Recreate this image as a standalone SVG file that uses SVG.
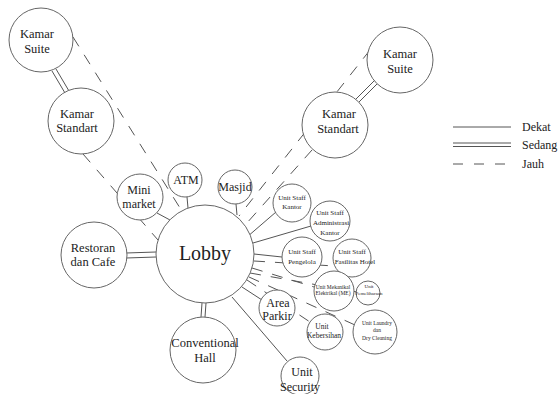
<svg xmlns="http://www.w3.org/2000/svg" width="559" height="394" viewBox="0 0 559 394">
<style>
.n{fill:#fff;stroke:#666;stroke-width:1}
.t{fill:#222;text-anchor:middle}
.s{stroke:#555;stroke-width:1;fill:none}
.d{stroke:#555;stroke-width:1;fill:none;stroke-dasharray:11 10}
.l{fill:#222;font-size:12px}
</style>
<rect width="559" height="394" fill="#fff"/>
<g id="connectors">
<line class="d" x1="73" y1="37" x2="180" y2="208"/>
<line class="d" x1="83" y1="154" x2="158" y2="240"/>
<line class="d" x1="370" y1="50" x2="239" y2="216"/>
<line class="d" x1="312" y1="150" x2="246" y2="224"/>
<line class="d" x1="254" y1="261" x2="334" y2="266"/>
<line class="d" x1="252" y1="268" x2="314" y2="287"/>
<line class="d" x1="250" y1="273" x2="357" y2="292"/>
<line class="d" x1="247" y1="280" x2="310" y2="322"/>
<line class="d" x1="249" y1="277" x2="355" y2="325"/>
<line class="s" x1="52" y1="71" x2="65" y2="93"/>
<line class="s" x1="56" y1="69" x2="69" y2="91"/>
<line class="s" x1="356" y1="99" x2="375" y2="80"/>
<line class="s" x1="359" y1="102" x2="378" y2="83"/>
<line class="s" x1="126" y1="253" x2="156" y2="252"/>
<line class="s" x1="126" y1="258" x2="156" y2="257"/>
<line class="s" x1="202" y1="303" x2="201" y2="317"/>
<line class="s" x1="206" y1="303" x2="205" y2="317"/>
<line class="s" x1="157" y1="213" x2="170" y2="220"/>
<line class="s" x1="187" y1="197" x2="188" y2="208"/>
<line class="s" x1="236" y1="204" x2="237" y2="215"/>
<line class="s" x1="247" y1="237" x2="276" y2="212"/>
<line class="s" x1="253" y1="243" x2="311" y2="226"/>
<line class="s" x1="254" y1="254" x2="282" y2="257"/>
<line class="s" x1="242" y1="287" x2="262" y2="300"/>
<line class="s" x1="232" y1="297" x2="287" y2="361"/>
</g>
<g font-family="'Liberation Serif', 'Times New Roman', 'DejaVu Serif', serif">
<g id="kamar-suite-l"><circle class="n" cx="41" cy="40" r="32"/><text class="t" font-size="12.5"><tspan x="37" y="38">Kamar</tspan><tspan x="37" y="53">Suite</tspan></text></g>
<g id="kamar-standart-l"><circle class="n" cx="81" cy="121" r="33"/><text class="t" font-size="12.5"><tspan x="77" y="118">Kamar</tspan><tspan x="77" y="132">Standart</tspan></text></g>
<g id="kamar-suite-r"><circle class="n" cx="400" cy="60" r="33"/><text class="t" font-size="12.5"><tspan x="400" y="58">Kamar</tspan><tspan x="400" y="73">Suite</tspan></text></g>
<g id="kamar-standart-r"><circle class="n" cx="335" cy="125" r="33"/><text class="t" font-size="12.5"><tspan x="339" y="118">Kamar</tspan><tspan x="338" y="133">Standart</tspan></text></g>
<g id="lobby"><circle class="n" cx="205" cy="254" r="49"/><text class="t" font-size="20" x="205" y="260">Lobby</text></g>
<g id="restoran"><circle class="n" cx="94" cy="255" r="33"/><text class="t" font-size="12.5"><tspan x="93" y="252">Restoran</tspan><tspan x="93" y="266">dan Cafe</tspan></text></g>
<g id="conventional"><circle class="n" cx="203" cy="350" r="33"/><text class="t" font-size="12.5"><tspan x="205" y="347">Conventional</tspan><tspan x="205" y="362">Hall</tspan></text></g>
<g id="minimarket"><circle class="n" cx="140" cy="197" r="23"/><text class="t" font-size="12"><tspan x="139" y="194">Mini</tspan><tspan x="139" y="208">market</tspan></text></g>
<g id="atm"><circle class="n" cx="185" cy="180" r="17"/><text class="t" font-size="12" x="186" y="184">ATM</text></g>
<g id="masjid"><circle class="n" cx="235" cy="187" r="17"/><text class="t" font-size="12" x="235" y="191">Masjid</text></g>
<g id="staff-kantor"><circle class="n" cx="292" cy="203" r="19"/><text class="t" font-size="7"><tspan x="292" y="200">Unit Staff</tspan><tspan x="292" y="209">Kantor</tspan></text></g>
<g id="staff-admin"><circle class="n" cx="330" cy="221" r="20"/><text class="t" font-size="7"><tspan x="330" y="215">Unit Staff</tspan><tspan x="331" y="225">Administrasi</tspan><tspan x="330" y="235">Kantor</tspan></text></g>
<g id="staff-pengelola"><circle class="n" cx="302" cy="257" r="20"/><text class="t" font-size="7"><tspan x="302" y="254">Unit Staff</tspan><tspan x="302" y="264">Pengelola</tspan></text></g>
<g id="staff-fasilitas"><circle class="n" cx="352" cy="258" r="19"/><text class="t" font-size="7"><tspan x="352" y="254">Unit Staff</tspan><tspan x="355" y="264">Fasilitas Hotel</tspan></text></g>
<g id="me"><circle class="n" cx="334" cy="291" r="20"/><text class="t" font-size="5.5"><tspan x="333" y="289">Unit Mekanikal</tspan><tspan x="333" y="295">Elektrikal (ME)</tspan></text></g>
<g id="pemeliharaan"><circle class="n" cx="368" cy="293" r="12"/><text class="t" font-size="5"><tspan x="369" y="288">Unit</tspan><tspan x="369" y="295">Pemeliharaan</tspan></text></g>
<g id="kebersihan"><circle class="n" cx="325" cy="332" r="18"/><text class="t" font-size="7.5"><tspan x="322" y="329">Unit</tspan><tspan x="324" y="338">Kebersihan</tspan></text></g>
<g id="laundry"><circle class="n" cx="375" cy="332" r="22"/><text class="t" font-size="5.5"><tspan x="377" y="325">Unit Laundry</tspan><tspan x="377" y="332">dan</tspan><tspan x="377" y="340">Dry Cleaning</tspan></text></g>
<g id="parkir"><circle class="n" cx="277" cy="308" r="18"/><text class="t" font-size="12"><tspan x="278" y="307">Area</tspan><tspan x="277" y="320">Parkir</tspan></text></g>
<g id="security"><circle class="n" cx="300" cy="376" r="19"/><text class="t" font-size="12"><tspan x="302" y="376">Unit</tspan><tspan x="300" y="391">Security</tspan></text></g>
<g id="legend">
<line class="s" x1="453" y1="127" x2="511" y2="127"/>
<line class="s" x1="453" y1="143" x2="511" y2="143"/>
<line class="s" x1="453" y1="146.5" x2="511" y2="146.5"/>
<line class="s" x1="453" y1="164" x2="511" y2="164" stroke-dasharray="10 11"/>
<text class="l" x="522" y="131">Dekat</text>
<text class="l" x="522" y="149">Sedang</text>
<text class="l" x="522" y="168">Jauh</text>
</g>
</g>
</svg>
